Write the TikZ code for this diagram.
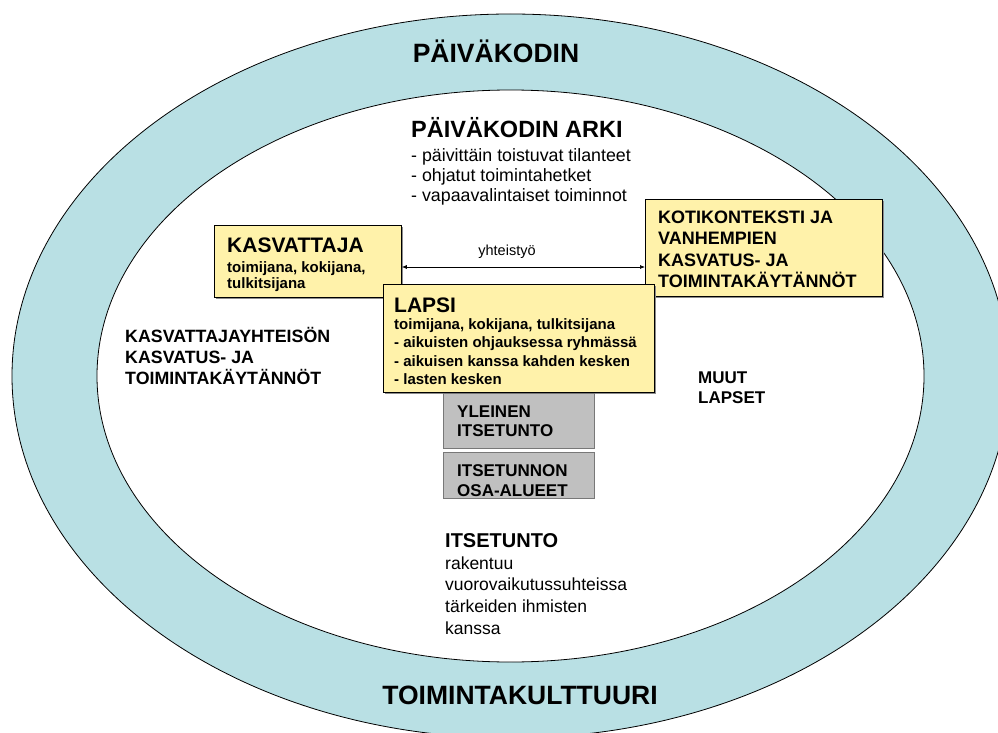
\documentclass[tikz,border=0pt]{standalone}
\usepackage{fontspec}
\setmainfont{Liberation Sans}
\usetikzlibrary{arrows.meta,shadows}
\definecolor{ring}{RGB}{185,224,228}
\definecolor{note}{RGB}{255,242,170}
\definecolor{greybox}{RGB}{192,192,192}
\definecolor{greyedge}{RGB}{120,120,120}
\newcommand{\fsz}[2]{\fontsize{#1}{#2}\selectfont}
% lines stacked with the first line as the baseline
\newcommand{\linestack}[1]{\begin{tabular}[t]{@{}l@{}}#1\end{tabular}}
\tikzset{
  ybox/.style={draw=black, line width=0.8pt, fill=note, anchor=north west,
    inner sep=0pt, drop shadow={shadow xshift=1.5pt, shadow yshift=-1.5pt, fill=black!45, opacity=1}},
  gbox/.style={draw=greyedge, line width=0.8pt, fill=greybox, anchor=north west, inner sep=0pt},
  txt/.style={inner sep=0pt, anchor=base west},
  ttl/.style={inner sep=0pt, anchor=base, font=\fsz{26.5}{28}\bfseries},
}
\begin{document}
\begin{tikzpicture}[x=1pt,y=-1pt]
\useasboundingbox (0,0) rectangle (998,733);
\clip (0,0) rectangle (998,733);
% rings
\draw[line width=0.8pt, fill=ring] (510.5,376) ellipse [x radius=498.5pt, y radius=362pt];
\draw[line width=0.8pt, fill=white] (510.5,376) ellipse [x radius=413.5pt, y radius=286pt];
% ring titles
\node[ttl] (ptitle) at (496,63) {PÄIVÄKODIN};
\node[ttl] (btitle) at (520,704) {TOIMINTAKULTTUURI};
% everyday life
\node[txt, font=\fsz{23.5}{24}\bfseries] (arkihead) at (411,137) {PÄIVÄKODIN ARKI};
\node[txt, font=\fsz{17.8}{20}\bfseries\mdseries] (arkilist) at (411,161)
  {\linestack{- päivittäin toistuvat tilanteet\\- ohjatut toimintahetket\\- vapaavalintaiset toiminnot}};
% boxes
\node[ybox, minimum width=237pt, minimum height=97pt] (koti) at (645,199) {};
\node[ybox, minimum width=187pt, minimum height=72pt] (kasv) at (214,225) {};
\node[ybox, minimum width=271pt, minimum height=108pt] (lapsi) at (383,284) {};
\node[gbox, minimum width=151pt, minimum height=55pt] (yleinen) at (443,393) {};
\node[gbox, minimum width=151pt, minimum height=46pt] (osa) at (443,452) {};
% box texts
\node[txt, font=\fsz{18}{21.5}\bfseries] (kotitext) at (658,223)
  {\linestack{KOTIKONTEKSTI JA\\VANHEMPIEN\\KASVATUS- JA\\TOIMINTAKÄYTÄNNÖT}};
\node[txt, font=\fsz{21}{22}\bfseries] (kasvhead) at (227,252) {KASVATTAJA};
\node[txt, font=\fsz{15}{16.5}\bfseries] (kasvtext) at (227,272) {\linestack{toimijana, kokijana,\\tulkitsijana}};
\node[txt, font=\fsz{21}{22}\bfseries] (lapsihead) at (394,312) {LAPSI};
\node[txt, font=\fsz{15}{18.3}\bfseries] (lapsitext) at (394,329.5)
  {\linestack{toimijana, kokijana, tulkitsijana\\- aikuisten ohjauksessa ryhmässä\\- aikuisen kanssa kahden kesken\\- lasten kesken}};
\node[txt, font=\fsz{17}{19.5}\bfseries] (yleinentext) at (457,417) {\linestack{YLEINEN\\ITSETUNTO}};
\node[txt, font=\fsz{17}{20}\bfseries] (osatext) at (457,476) {\linestack{ITSETUNNON\\OSA-ALUEET}};
% cooperation arrow
\coordinate (arrowrow) at (0,267);
\draw[{Latex[length=5pt,width=4pt]}-{Latex[length=5pt,width=4pt]}, line width=0.7pt]
  (kasv.east |- arrowrow) -- (koti.west |- arrowrow);
\node[inner sep=0pt, anchor=base, font=\fsz{14.5}{16}] (yhteis) at (507,255) {yhteistyö};
% free texts
\node[txt, font=\fsz{17.8}{21}\bfseries] (yhteiso) at (125,342)
  {\linestack{KASVATTAJAYHTEISÖN\\KASVATUS- JA\\TOIMINTAKÄYTÄNNÖT}};
\node[txt, font=\fsz{17}{20}\bfseries] (muut) at (698,383) {\linestack{MUUT\\LAPSET}};
\node[txt, font=\fsz{20}{21}\bfseries] (itsehead) at (445,547) {ITSETUNTO};
\node[txt, font=\fsz{17.5}{21.7}] (itsetext) at (445,569)
  {\linestack{rakentuu\\vuorovaikutussuhteissa\\tärkeiden ihmisten\\kanssa}};
\end{tikzpicture}
\end{document}
